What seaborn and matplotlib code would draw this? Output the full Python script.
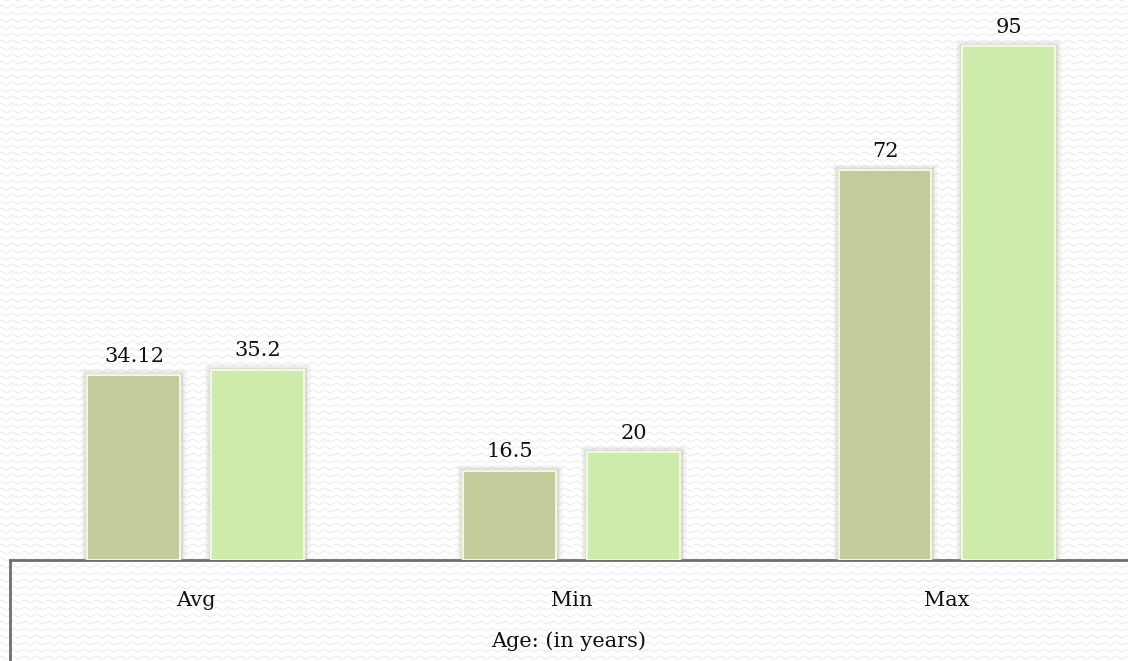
import numpy as np
import pandas as pd
import matplotlib
matplotlib.use("Agg")
import matplotlib.pyplot as plt
import matplotlib.patheffects as pe
from matplotlib.lines import Line2D
import seaborn as sns

categories = ["Avg", "Min", "Max"]
series_names = ["Group 1", "Group 2"]
group1_values = [34.12, 16.5, 72]
group2_values = [35.2, 20, 95]
value_labels_1 = ["34.12", "16.5", "72"]
value_labels_2 = ["35.2", "20", "95"]
axis_title = "Age: (in years)"

df = pd.DataFrame({
    "stat": categories * 2,
    "series": [series_names[0]] * 3 + [series_names[1]] * 3,
    "value": group1_values + group2_values,
})

sns.set_theme(style="white")
plt.rcParams["font.family"] = ["DejaVu Serif", "Liberation Serif"]

W, H, DPI = 1128, 661, 100
fig = plt.figure(figsize=(W / DPI, H / DPI), dpi=DPI)
fig.patch.set_facecolor("white")

# faint zigzag texture across the whole canvas, in its own background axes
yy, xx = np.mgrid[0:H, 0:W]
period_x, period_y = 12, 7
tri = np.abs((xx % period_x) - period_x / 2) / (period_x / 2)
phase = (yy + tri * 3) % period_y
tex = np.where(phase < 1.3, 0.945, 1.0)
bg_ax = fig.add_axes([0, 0, 1, 1], zorder=0)
bg_ax.imshow(np.dstack([tex, tex, tex]), aspect="auto", interpolation="nearest")
bg_ax.set_axis_off()

ax = fig.add_axes([10 / W, (H - 560) / H, 1 - 10 / W, 560 / H], zorder=2)
ax.patch.set_alpha(0)

palette = {series_names[0]: "#C3CB9B", series_names[1]: "#CDEBAA"}
sns.barplot(data=df, x="stat", y="value", hue="series", order=categories,
            hue_order=series_names, palette=palette, width=0.66, gap=0.25,
            saturation=1, legend=False, ax=ax, edgecolor="#F2F8DC",
            linewidth=1.5, zorder=3)

# soft grey glow around each bar
shadow = [pe.withStroke(linewidth=9, foreground="#b0b0b0", alpha=0.10),
          pe.withStroke(linewidth=6, foreground="#a8a8a8", alpha=0.15),
          pe.withStroke(linewidth=3.5, foreground="#a0a0a0", alpha=0.20)]
for bar in ax.patches:
    bar.set_path_effects(shadow + [pe.Normal()])

labels = value_labels_1 + value_labels_2
for bar, lab in zip(ax.patches, labels):
    ax.annotate(lab, (bar.get_x() + bar.get_width() / 2, bar.get_height()),
                xytext=(0, 13.5), textcoords="offset points", ha="center",
                va="center", fontsize=15, color="#111111")

ax.set_xlim(-0.495, 2.482)
ax.set_ylim(0, 103.5)
ax.set_yticks([])
ax.set_ylabel("")
ax.tick_params(axis="x", length=0, pad=22.5, labelsize=15, labelcolor="#111111")
ax.set_xlabel(axis_title, fontsize=15, color="#111111", labelpad=15.5)
for side in ["left", "right", "top"]:
    ax.spines[side].set_visible(False)
ax.spines["bottom"].set_color("#6e6e6e")
ax.spines["bottom"].set_linewidth(2)

# left edge of the category box
fig.add_artist(Line2D([10 / W, 10 / W], [0, (H - 560) / H],
                      color="#6e6e6e", linewidth=2, zorder=3))

fig.savefig("out.png", dpi=DPI)
